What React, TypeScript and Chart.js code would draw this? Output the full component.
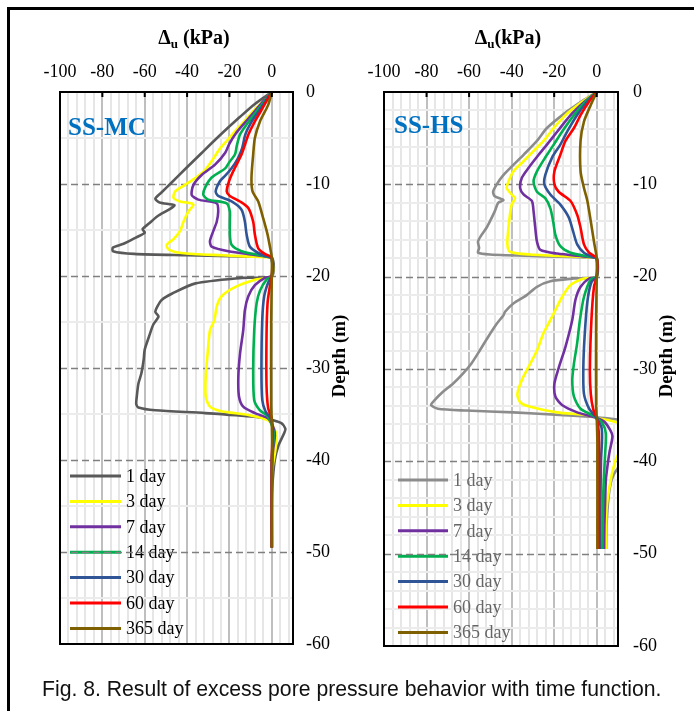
import React, { useEffect, useRef } from 'react';
import { Chart, registerables } from 'chart.js';

Chart.register(...registerables);

type Pt = [number, number]; // [excess pore pressure Δu (kPa), depth below surface (m)]

const SERIES_LABELS = ['1 day', '3 day', '7 day', '14 day', '30 day', '60 day', '365 day'];
const MC_COLORS = ['#595959', '#FFFF00', '#7030A0', '#00B050', '#2F5597', '#FF0000', '#7F6000'];
const HS_COLORS = ['#8C8C8C', '#FFFF00', '#7030A0', '#00B050', '#2F5597', '#FF0000', '#7F6000'];

const X_TICK_VALUES = [-100, -96, -92, -88, -84, -80, -76, -72, -68, -64, -60, -56, -52, -48, -44, -40, -36, -32, -28, -24, -20, -16, -12, -8, -4, 0, 4, 8, 10];
const X_LABELLED = [-100, -80, -60, -40, -20, 0];
const Y_TICKS_MC = [0, -5, -10, -15, -20, -25, -30, -35, -40, -45, -50, -55, -60];
const Y_TICKS_HS = [0, -2, -4, -6, -8, -10, -12, -14, -16, -18, -20, -22, -24, -26, -28, -30, -32, -34, -36, -38, -40, -42, -44, -46, -48, -50, -52, -54, -56, -58, -60];
const Y_LABELLED = [0, -10, -20, -30, -40, -50, -60];
const DASHED_DEPTHS = [-10, -20, -30, -40, -50];
const X_MAJOR_MARKS = [-80, -60, -40, -20, 0];

// ---------- SS-MC ----------
const MC_1DAY: Pt[] = [[0,0],[-8,1.3],[-15,2.7],[-24,4.6],[-33,6.6],[-41,8.4],[-48,10],[-52,10.9],[-55,11.6],[-53,12.0],[-46,12.3],[-48,12.7],[-54,13.5],[-58,14.3],[-61,14.9],[-60,15.3],[-64,15.8],[-70,16.5],[-75,16.9],[-75,17.3],[-65,17.6],[-40,17.75],[-10,17.9],[0,18],[0,20],[-14,20.2],[-36,20.8],[-47,21.9],[-52,22.6],[-54,23.3],[-55,23.9],[-53.5,24.4],[-56,25.3],[-58,26.6],[-60,28],[-60.5,29.1],[-61.6,30.6],[-63,31.7],[-63.7,33],[-64,33.9],[-63,34.3],[-55,34.6],[-31.5,34.9],[-8,35.3],[-1,35.6],[4.5,36],[6.4,36.6],[5.8,37.1],[3,38.5],[1.4,40],[0.5,42],[0,44],[0,49.5]];
const MC_3DAY: Pt[] = [[0,0],[-4,1],[-8.5,2],[-13,3.2],[-17.5,4.3],[-22,5.5],[-25,6.3],[-27.5,7.2],[-32,8.6],[-37,9.5],[-41,10.1],[-45.6,10.8],[-46.4,11.5],[-43.3,11.9],[-38,12.1],[-37,12.3],[-39.4,13],[-41.7,14.1],[-43.3,15.1],[-46.4,16],[-49.6,16.6],[-48.8,17.1],[-42.5,17.5],[-23.7,17.75],[-2,17.97],[0,18],[0,20],[-8,20.4],[-17.4,21.2],[-23.7,22.2],[-26,23.3],[-27.1,24.8],[-29.2,25.9],[-30.3,28.4],[-31.2,30.9],[-31.2,33.1],[-29.2,34.2],[-23.7,34.7],[-11.1,35.1],[-1.7,35.7],[1.4,36.7],[2.2,37.5],[1.7,38.9],[0.6,40.4],[0,42],[0,49.5]];
const MC_7DAY: Pt[] = [[0,0],[-4,1],[-8.5,2.2],[-13,3.4],[-17,4.5],[-20,5.6],[-22,6.6],[-26.8,7.9],[-33,9],[-37,10.1],[-37.8,11.2],[-34.7,11.7],[-26,12.1],[-25.3,13],[-26,14.1],[-27.6,15.1],[-29.2,16.2],[-28.4,16.8],[-20.5,17.3],[-8,17.7],[-1,17.95],[0,18],[0,20],[-3.3,20.2],[-8,21],[-11.1,22.2],[-12.7,23.7],[-13.5,25.9],[-15,28.4],[-15.8,30.9],[-15.5,33.1],[-13.5,34.2],[-8,34.9],[-1.7,35.5],[1.1,36.7],[1.4,37.5],[0.6,38.9],[0,41],[0,49.5]];
const MC_14DAY: Pt[] = [[0,0],[-3.5,1],[-7.5,2.2],[-11.5,3.4],[-15,4.6],[-16.5,5.8],[-17.4,6.8],[-20,7.6],[-22,8.3],[-28.4,9.3],[-31.5,10.4],[-32.3,11.2],[-30,11.7],[-21.3,12.1],[-19.8,13],[-19.8,14],[-19.8,15.5],[-19,16.6],[-14.3,17.3],[-6.4,17.7],[-1,17.95],[0,18],[0,20],[-2.5,20.4],[-5.6,21.6],[-7.2,23],[-8.3,25.9],[-8.8,30.2],[-8.3,33.5],[-5.6,34.6],[-1.7,35.3],[0.8,37],[0,40],[0,49.5]];
const MC_30DAY: Pt[] = [[0,0],[-3,1],[-6.5,2.2],[-10,3.4],[-12.5,4.6],[-14,6.1],[-16,7.2],[-19,8.3],[-22,9.1],[-24.5,9.7],[-26.5,10.8],[-25.3,11.3],[-19,11.9],[-14.3,12.8],[-12.7,14.1],[-11.9,15.5],[-10.4,16.8],[-6.4,17.5],[-1,17.95],[0,18],[0,20],[-1.7,20.7],[-3.6,22.2],[-4.5,24.7],[-4.9,30.2],[-4.5,33.5],[-3,34.7],[-0.5,35.5],[0.5,37],[0,40],[0,49.5]];
const MC_60DAY: Pt[] = [[0,0],[-2.5,1],[-5.5,2.2],[-8.5,3.4],[-11,4.6],[-12.5,5.6],[-14.3,6.8],[-18.2,8.6],[-20.2,9.7],[-21.3,10.8],[-19.8,11.3],[-15,11.9],[-11.1,12.6],[-8.8,14.1],[-8,15.5],[-6.4,17],[-3.3,17.6],[0,18],[0,20],[-0.9,21.1],[-2,22.9],[-2.5,26.5],[-2.5,31.9],[-1.7,34.4],[0,35.5],[0.3,37],[0,40],[0,49.5]];
const MC_365DAY: Pt[] = [[0,0],[-1.7,1.4],[-5.6,3.2],[-8,5],[-8.8,6.8],[-9.6,9.3],[-9.1,10.8],[-6.4,11.9],[-4.1,13.7],[-2,15.5],[-0.5,17.3],[0,18],[0,20],[-0.3,25],[-0.3,34],[0,36],[0.2,40],[0,49.5]];

// ---------- SS-HS ----------
const HS_1DAY: Pt[] = [[0,0],[-7,1],[-13.9,2.1],[-23.4,3.9],[-28.1,5.3],[-34.4,6.8],[-39.2,7.9],[-43.9,9],[-47,10],[-48.7,10.8],[-47.9,11.3],[-43.9,11.7],[-46.3,12],[-47.9,12.9],[-50.2,14],[-51.8,14.7],[-54.2,15.5],[-55.8,16.2],[-55.3,16.9],[-55.8,17.4],[-50.2,17.6],[-23.4,17.8],[-1,17.95],[0,18],[0,20],[-10.7,20.2],[-21.8,20.5],[-28.1,21.1],[-32.9,22],[-39.2,22.9],[-43.1,23.8],[-43.9,24.2],[-47,25.1],[-51,26.5],[-55,28],[-58.9,29.4],[-62.9,30.5],[-67.6,31.6],[-72.4,32.5],[-76.3,33.4],[-77.9,33.9],[-74.7,34.3],[-61.3,34.5],[-39.2,34.7],[-15.5,35],[-1.3,35.2],[10.6,35.5],[18,35.9],[20,37.5],[16,39.5],[10,40.7],[7,42],[5.5,44],[4.6,47],[4.4,49.5]];
const HS_3DAY: Pt[] = [[0,0],[-7,1.1],[-14.7,2.5],[-20.2,3.9],[-25,5.3],[-29.7,6.4],[-34.4,7.5],[-39.2,8.6],[-41.5,9.7],[-42.3,10.4],[-40,11.1],[-38.4,11.5],[-40,12.2],[-40.8,13.3],[-41.5,14.7],[-42,16.5],[-40.8,17.3],[-31.3,17.6],[-4.4,17.9],[0,18],[0,20],[-6,20.2],[-12.3,20.9],[-16.3,22.2],[-19.4,23.6],[-21.8,24.7],[-25,26.1],[-28.1,28],[-32.1,29.8],[-35.2,31.2],[-37.3,32.7],[-36,33.6],[-31.3,34.1],[-18.6,34.7],[-4.4,35],[0,35.3],[6.6,35.6],[10.6,35.9],[15,36.8],[15,38],[10,39.3],[7.5,41],[5.5,43.5],[4.6,45.3],[4.3,49.5]];
const HS_7DAY: Pt[] = [[0,0],[-5.5,1],[-12.3,2.5],[-18.6,4.3],[-23.4,5.7],[-27.3,6.8],[-32,8.2],[-35.2,9.3],[-36,10.4],[-34.4,11.1],[-30.5,11.8],[-29.7,12.9],[-28.9,14.7],[-28.1,16.2],[-26.5,17.1],[-18.6,17.5],[-4.4,17.85],[0,18],[0,20],[-3.6,20.2],[-7.6,21.1],[-10,22.5],[-11.5,24.7],[-14.7,27.6],[-17.9,29.9],[-19.9,31.6],[-19.4,33],[-16.3,33.9],[-9.2,34.7],[-1.3,35.2],[3.5,35.7],[6.3,36.6],[7.4,37.3],[6,39],[5,40.6],[4.3,42],[4,44],[3.6,47],[3.5,49.5]];
const HS_14DAY: Pt[] = [[0,0],[-5,1],[-10.7,2.5],[-16.3,4.3],[-20.2,5.7],[-24.2,7.1],[-28.1,8.6],[-29.7,9.7],[-28.1,10.8],[-24.2,11.5],[-21.8,12.6],[-20.5,14],[-19.4,15.5],[-17.1,16.7],[-12.3,17.4],[-3,17.85],[0,18],[0,20],[-2.8,20.3],[-6,22.2],[-7.9,24.7],[-9.2,27.2],[-10.7,29.4],[-11.5,31.2],[-10.7,33],[-7.6,34.3],[-1.3,35.1],[2.7,35.9],[4.3,37],[4,39],[3.3,42],[2.9,45],[2.7,49.5]];
const HS_30DAY: Pt[] = [[0,0],[-4.3,1],[-9.2,2.5],[-13.9,4.3],[-17.1,5.7],[-21,7.1],[-24.2,9],[-24.6,10],[-21.8,11.1],[-17.1,12.2],[-13.1,13.6],[-11.1,15.1],[-9.2,16.5],[-6,17.4],[-1.5,17.9],[0,18],[0,20],[-2.5,20.6],[-4.4,22.7],[-5.7,26.5],[-6.3,29.9],[-6,32.7],[-3.6,34.3],[-0.8,35.1],[2.2,36.3],[2.5,37.5],[2,40],[1.7,45],[1.6,49.5]];
const HS_60DAY: Pt[] = [[0,0],[-3.5,1],[-7.6,2.5],[-10.7,3.9],[-14.7,5.3],[-17.1,6.8],[-19.9,8.6],[-19.9,10],[-17.9,10.8],[-12.3,11.8],[-9.2,13.3],[-7.6,14.7],[-6,16.5],[-3.6,17.4],[0,18],[0,20],[-1.3,21.1],[-2.5,24.7],[-3.2,29.9],[-2.8,32.7],[-1.6,34.4],[0,35.3],[1,37],[1,49.5]];
const HS_365DAY: Pt[] = [[0,0],[-2.8,1.4],[-6,3.2],[-7.6,5.3],[-7.6,8.6],[-6,10.4],[-4.4,11.8],[-2.8,14],[-1.3,16.2],[0,18],[0,20],[-0.3,25],[-0.3,34],[0,35.3],[0.3,38],[0.3,49.5]];

const MC_SERIES = [MC_1DAY, MC_3DAY, MC_7DAY, MC_14DAY, MC_30DAY, MC_60DAY, MC_365DAY];
const HS_SERIES = [HS_1DAY, HS_3DAY, HS_7DAY, HS_14DAY, HS_30DAY, HS_60DAY, HS_365DAY];

const SERIF = "'Liberation Serif', 'Times New Roman', serif";

interface PanelCfg {
  left: number; top: number; width: number; height: number;
  padLeft: number; padBottom: number; xAxisHeight: number; yAxisWidth: number; yTickPad: number;
  series: Pt[][]; colors: string[]; yTicks: number[];
  tag: string; tagX: number; tagY: number;
  title: string[]; titleX: number; titleY: number;
  depthX: number; depthY: number;
  legX0: number; legX1: number; legTextX: number; legY0: number; legDy: number; legColor: string;
}

function Panel({ cfg }: { cfg: PanelCfg }) {
  const ref = useRef<HTMLCanvasElement>(null);
  useEffect(() => {
    const canvas = ref.current!;
    const ox = cfg.left, oy = cfg.top;
    const decor = {
      id: 'decor',
      beforeDatasetsDraw(chart: any) {
        const { ctx, chartArea: a, scales } = chart;
        const y = scales.y;
        ctx.save();
        ctx.font = `18px ${SERIF}`;
        ctx.textBaseline = 'middle';
        ctx.textAlign = 'left';
        SERIES_LABELS.forEach((lab, i) => {
          const ly = cfg.legY0 + i * cfg.legDy - oy;
          ctx.strokeStyle = cfg.colors[i];
          ctx.lineWidth = 3;
          ctx.beginPath();
          ctx.moveTo(cfg.legX0 - ox, ly);
          ctx.lineTo(cfg.legX1 - ox, ly);
          ctx.stroke();
          ctx.fillStyle = cfg.legColor;
          ctx.fillText(lab, cfg.legTextX - ox, ly + 1);
        });
        ctx.strokeStyle = '#7f7f7f';
        ctx.lineWidth = 1.6;
        ctx.setLineDash([7, 4]);
        DASHED_DEPTHS.forEach((v) => {
          const py = Math.round(y.getPixelForValue(v)) + 0.5;
          ctx.beginPath();
          ctx.moveTo(a.left, py);
          ctx.lineTo(a.right, py);
          ctx.stroke();
        });
        ctx.restore();
      },
      afterDraw(chart: any) {
        const { ctx, chartArea: a, scales } = chart;
        const x = scales.x;
        ctx.save();
        ctx.strokeStyle = '#000';
        ctx.lineWidth = 2;
        ctx.strokeRect(a.left, a.top, a.right - a.left, a.bottom - a.top);
        X_MAJOR_MARKS.forEach((v) => {
          const px = x.getPixelForValue(v);
          ctx.beginPath();
          ctx.moveTo(px, a.top);
          ctx.lineTo(px, a.top + 5);
          ctx.stroke();
        });
        ctx.font = `bold 25px ${SERIF}`;
        ctx.fillStyle = '#0070C0';
        ctx.textBaseline = 'alphabetic';
        ctx.textAlign = 'left';
        ctx.fillText(cfg.tag, cfg.tagX - ox, cfg.tagY - oy);
        const big = `bold 20px ${SERIF}`;
        const small = `bold 13px ${SERIF}`;
        ctx.fillStyle = '#000';
        ctx.font = big;
        const w0 = ctx.measureText(cfg.title[0]).width;
        const w2 = ctx.measureText(cfg.title[2]).width;
        ctx.font = small;
        const w1 = ctx.measureText(cfg.title[1]).width;
        let sx = cfg.titleX - ox - (w0 + w1 + w2) / 2;
        const by = cfg.titleY - oy;
        ctx.font = big;
        ctx.fillText(cfg.title[0], sx, by);
        sx += w0;
        ctx.font = small;
        ctx.fillText(cfg.title[1], sx, by + 4);
        sx += w1;
        ctx.font = big;
        ctx.fillText(cfg.title[2], sx, by);
        ctx.translate(cfg.depthX - ox, cfg.depthY - oy);
        ctx.rotate(-Math.PI / 2);
        ctx.font = `bold 19px ${SERIF}`;
        ctx.textAlign = 'center';
        ctx.textBaseline = 'middle';
        ctx.fillText('Depth (m)', 0, 0);
        ctx.restore();
      },
    };
    const n = cfg.series.length;
    const chart = new Chart(canvas, {
      type: 'scatter',
      data: {
        datasets: cfg.series.map((s, i) => ({
          label: SERIES_LABELS[i],
          data: s.map(([kpa, d]) => ({ x: kpa, y: -d })),
          borderColor: cfg.colors[i],
          backgroundColor: cfg.colors[i],
          borderWidth: 2.6,
          showLine: true,
          pointRadius: 0,
          pointHoverRadius: 0,
          tension: 0.25,
          fill: false,
          order: n - 1 - i,
        })),
      },
      options: {
        animation: false,
        responsive: false,
        events: [],
        layout: { padding: { left: cfg.padLeft, top: 0, right: 0, bottom: cfg.padBottom } },
        plugins: { legend: { display: false }, tooltip: { enabled: false }, title: { display: false } },
        scales: {
          x: {
            type: 'linear',
            position: 'top',
            min: -100,
            max: 10,
            afterBuildTicks: (s: any) => { s.ticks = X_TICK_VALUES.map((v) => ({ value: v })); },
            afterFit: (s: any) => { s.height = cfg.xAxisHeight; },
            grid: {
              color: (c: any) => (c.tick && c.tick.value % 20 === 0 ? '#bfbfbf' : '#e6e6e6'),
              lineWidth: 2,
              drawTicks: false,
            },
            border: { display: false },
            ticks: {
              autoSkip: false,
              maxRotation: 0,
              minRotation: 0,
              padding: 9,
              color: '#000',
              font: { family: SERIF, size: 18 },
              callback: (v: any) => (X_LABELLED.includes(Number(v)) ? String(v) : ''),
            },
          },
          y: {
            type: 'linear',
            position: 'right',
            min: -60,
            max: 0,
            afterBuildTicks: (s: any) => { s.ticks = cfg.yTicks.map((v) => ({ value: v })); },
            afterFit: (s: any) => { s.width = cfg.yAxisWidth; },
            grid: {
              color: (c: any) => (c.tick && c.tick.value % 10 === 0 ? 'rgba(0,0,0,0)' : '#ececec'),
              lineWidth: 2,
              drawTicks: false,
            },
            border: { display: false },
            ticks: {
              autoSkip: false,
              padding: cfg.yTickPad,
              color: '#000',
              font: { family: SERIF, size: 18 },
              callback: (v: any) => (Y_LABELLED.includes(Number(v)) ? String(v) : ''),
            },
          },
        },
      },
      plugins: [decor],
    } as any);
    return () => chart.destroy();
  }, []);
  return (
    <canvas
      ref={ref}
      width={cfg.width}
      height={cfg.height}
      style={{ position: 'absolute', left: cfg.left, top: cfg.top, width: cfg.width, height: cfg.height }}
    />
  );
}

const MC_PANEL: PanelCfg = {
  left: 0, top: 0, width: 360, height: 680,
  padLeft: 60, padBottom: 36, xAxisHeight: 92, yAxisWidth: 67, yTickPad: 13,
  series: MC_SERIES, colors: MC_COLORS, yTicks: Y_TICKS_MC,
  tag: 'SS-MC', tagX: 68, tagY: 135,
  title: ['Δ', 'u', ' (kPa)'], titleX: 194, titleY: 44,
  depthX: 340, depthY: 356,
  legX0: 70, legX1: 121, legTextX: 126, legY0: 476, legDy: 25.4, legColor: '#000',
};

const HS_PANEL: PanelCfg = {
  left: 344, top: 0, width: 350, height: 680,
  padLeft: 40, padBottom: 34, xAxisHeight: 92, yAxisWidth: 76, yTickPad: 15,
  series: HS_SERIES, colors: HS_COLORS, yTicks: Y_TICKS_HS,
  tag: 'SS-HS', tagX: 394, tagY: 133,
  title: ['Δ', 'u', '(kPa)'], titleX: 508, titleY: 44,
  depthX: 667, depthY: 356,
  legX0: 398, legX1: 448, legTextX: 453, legY0: 480, legDy: 25.4, legColor: '#666',
};

export default function App() {
  return (
    <div style={{ position: 'absolute', left: 0, top: 0, width: 694, height: 711, overflow: 'hidden', background: '#fff' }}>
      <div
        style={{
          position: 'absolute', left: 7, top: 7, width: 700, height: 720,
          borderTop: '3px solid #000', borderLeft: '3px solid #000',
        }}
      />
      <Panel cfg={MC_PANEL} />
      <Panel cfg={HS_PANEL} />
      <div
        style={{
          position: 'absolute', left: 42, top: 677, whiteSpace: 'nowrap',
          fontFamily: "'Liberation Sans', Arial, sans-serif", fontSize: 21.2, color: '#111',
        }}
      >
        Fig. 8. Result of excess pore pressure behavior with time function.
      </div>
    </div>
  );
}
